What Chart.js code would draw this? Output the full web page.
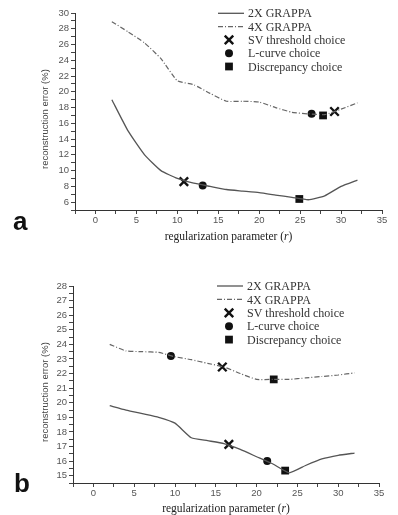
<!DOCTYPE html>
<html>
<head>
<meta charset="utf-8">
<script src="https://cdn.jsdelivr.net/npm/chart.js@4.4.1/dist/chart.umd.min.js"></script>
<style>
  body { margin: 0; background: #fff; }
  #wrap { position: relative; width: 398px; height: 515px; overflow: hidden; }
  canvas { position: absolute; left: 0; }
  .letter { position: absolute; font: bold 26px "Liberation Sans", Arial, sans-serif; line-height: 26px; color: #111; }
  .xtitle { position: absolute; left: 75px; width: 307px; text-align: center; font: 11.5px "Liberation Serif", "Times New Roman", serif; color: #222; line-height: 14px; }
  .ytitle { position: absolute; width: 160px; text-align: center; font: 9.5px "Liberation Sans", Arial, sans-serif; color: #444; line-height: 12px; transform: rotate(-90deg); }
</style>
</head>
<body>
<div id="wrap">
  <canvas id="chart-a" width="398" height="250" style="top:0"></canvas>
  <canvas id="chart-b" width="398" height="257" style="top:258px"></canvas>
  <div class="letter" style="left:13px; top:208px">a</div>
  <div class="letter" style="left:14px; top:470px">b</div>
  <div class="xtitle" style="top:229px">regularization parameter (<i>r</i>)</div>
  <div class="xtitle" style="top:501px; left:73px; width:306px">regularization parameter (<i>r</i>)</div>
  <div class="ytitle" style="left:-35px; top:113px">reconstruction error (%)</div>
  <div class="ytitle" style="left:-35px; top:386px">reconstruction error (%)</div>
</div>
<script>
// regularization parameter values where the curves were sampled
const rValues = [2, 4, 6, 8, 10, 12, 14, 16, 18, 20, 22, 24, 26, 28, 30, 32];

// panel a
const a2x = [19.0, 15.0, 12.0, 10.0, 9.0, 8.4, 8.0, 7.6, 7.4, 7.2, 6.9, 6.6, 6.3, 6.8, 8.0, 8.8];
const a4x = [28.9, 27.6, 26.2, 24.2, 21.4, 20.9, 19.8, 18.8, 18.8, 18.7, 18.0, 17.4, 17.2, 17.1, 17.8, 18.6];
const aSV = [[10.8, 8.6], [29.2, 17.5]];
const aLcurve = [[13.1, 8.1], [26.4, 17.2]];
const aDiscrep = [[24.9, 6.4], [27.8, 17.0]];

// panel b
const b2x = [19.8, 19.5, 19.25, 19.0, 18.6, 17.6, 17.4, 17.2, 16.8, 16.3, 15.8, 15.2, 15.7, 16.15, 16.4, 16.55];
const b4x = [24.0, 23.55, 23.5, 23.45, 23.15, 22.95, 22.7, 22.45, 22.0, 21.6, 21.6, 21.6, 21.7, 21.8, 21.9, 22.05];
const bSV = [[16.6, 17.15], [15.8, 22.45]];
const bLcurve = [[21.3, 16.0], [9.5, 23.2]];
const bDiscrep = [[23.5, 15.35], [22.1, 21.6]];

const seriesLabels = ['2X GRAPPA', '4X GRAPPA', 'SV threshold choice', 'L-curve choice', 'Discrepancy choice'];

function toPts(xs, ys) { return xs.map((x, i) => ({ x: x, y: ys[i] })); }
function pairPts(arr) { return arr.map(p => ({ x: p[0], y: p[1] })); }

function drawMarker(ctx, style, x, y, r) {
  ctx.beginPath();
  if (style === 'crossRot') {
    const d = r * Math.SQRT1_2;
    ctx.moveTo(x - d, y - d); ctx.lineTo(x + d, y + d);
    ctx.moveTo(x - d, y + d); ctx.lineTo(x + d, y - d);
    ctx.stroke();
  } else if (style === 'rect') {
    const s = r * Math.SQRT1_2;
    ctx.rect(x - s, y - s, 2 * s, 2 * s);
    ctx.fill();
  } else {
    ctx.arc(x, y, r, 0, Math.PI * 2);
    ctx.fill();
  }
}

const boxLegend = {
  id: 'boxLegend',
  afterDraw(chart, args, opts) {
    const ctx = chart.ctx;
    ctx.save();
    ctx.font = '12px "Liberation Serif", "Times New Roman", serif';
    ctx.textBaseline = 'middle';
    chart.data.datasets.forEach((ds, i) => {
      const y = opts.y + i * opts.gap;
      if (ds.showLine) {
        ctx.strokeStyle = ds.borderColor;
        ctx.lineWidth = ds.borderWidth;
        ctx.setLineDash(ds.borderDash || []);
        ctx.beginPath();
        ctx.moveTo(opts.lineX0, y);
        ctx.lineTo(opts.lineX1, y);
        ctx.stroke();
        ctx.setLineDash([]);
      } else {
        ctx.fillStyle = ds.backgroundColor;
        ctx.strokeStyle = ds.borderColor;
        ctx.lineWidth = ds.borderWidth;
        drawMarker(ctx, ds.pointStyle, opts.markX, y, ds.pointRadius);
      }
      ctx.fillStyle = '#333';
      ctx.fillText(ds.label, opts.textX, y + 1);
    });
    ctx.restore();
  }
};

function makePanel(id, cfg) {
  const tickFont = { family: '"Liberation Sans", Arial, sans-serif', size: 9.5 };
  const ctx = document.getElementById(id).getContext('2d');
  return new Chart(ctx, {
    type: 'scatter',
    data: {
      datasets: [
        { label: seriesLabels[0], data: toPts(rValues, cfg.s2x), showLine: true, borderColor: '#555', borderWidth: 1.3, pointRadius: 0, tension: 0.15 },
        { label: seriesLabels[1], data: toPts(rValues, cfg.s4x), showLine: true, borderColor: '#666', borderWidth: 1.2, borderDash: [5, 2, 1, 2], pointRadius: 0, tension: 0.15 },
        { label: seriesLabels[2], data: pairPts(cfg.sv), pointStyle: 'crossRot', pointRadius: 6, borderWidth: 2.4, borderColor: '#111', backgroundColor: '#111' },
        { label: seriesLabels[3], data: pairPts(cfg.lc), pointStyle: 'circle', pointRadius: 4, borderWidth: 0, borderColor: '#111', backgroundColor: '#111' },
        { label: seriesLabels[4], data: pairPts(cfg.dp), pointStyle: 'rect', pointRadius: 5.5, borderWidth: 0, borderColor: '#111', backgroundColor: '#111' }
      ]
    },
    options: {
      responsive: false,
      animation: false,
      layout: { padding: { left: 0, top: cfg.padTop, right: cfg.padRight, bottom: 0 } },
      scales: {
        x: {
          type: 'linear', min: -2.5, max: 35,
          afterFit: s => { s.height = cfg.xHeight; },
          ticks: {
            stepSize: 2.5, autoSkip: false, maxRotation: 0, padding: 1,
            color: '#555', font: tickFont,
            callback: v => (v % 5 === 0 ? v : '')
          },
          grid: { drawOnChartArea: false, drawTicks: true, tickLength: 4, color: '#444' },
          border: { display: true, color: '#333', width: 1 }
        },
        y: {
          type: 'linear', min: cfg.yMin, max: cfg.yMax,
          afterFit: s => { s.width = cfg.yWidth; },
          ticks: {
            stepSize: cfg.yStep, autoSkip: false, padding: 2,
            color: '#555', font: tickFont,
            callback: v => (cfg.yLabel(v) ? v : '')
          },
          grid: { drawOnChartArea: false, drawTicks: true, tickLength: 4, color: '#444' },
          border: { display: true, color: '#333', width: 1 }
        }
      },
      plugins: {
        legend: { display: false },
        tooltip: { enabled: false },
        boxLegend: cfg.legend
      }
    },
    plugins: [boxLegend]
  });
}

makePanel('chart-a', {
  s2x: a2x, s4x: a4x, sv: aSV, lc: aLcurve, dp: aDiscrep,
  yMin: 5, yMax: 30, yStep: 1, yLabel: v => v >= 6 && v % 2 === 0,
  padTop: 13, padRight: 16, yWidth: 75, xHeight: 40,
  legend: { y: 13.3, gap: 13.3, lineX0: 218, lineX1: 244, markX: 229, textX: 248 }
});

makePanel('chart-b', {
  s2x: b2x, s4x: b4x, sv: bSV, lc: bLcurve, dp: bDiscrep,
  yMin: 14.5, yMax: 28, yStep: 0.5, yLabel: v => Number.isInteger(v) && v >= 15,
  padTop: 28, padRight: 19, yWidth: 73, xHeight: 32,
  legend: { y: 28, gap: 13.4, lineX0: 217, lineX1: 243, markX: 229, textX: 247 }
});
</script>
</body>
</html>
